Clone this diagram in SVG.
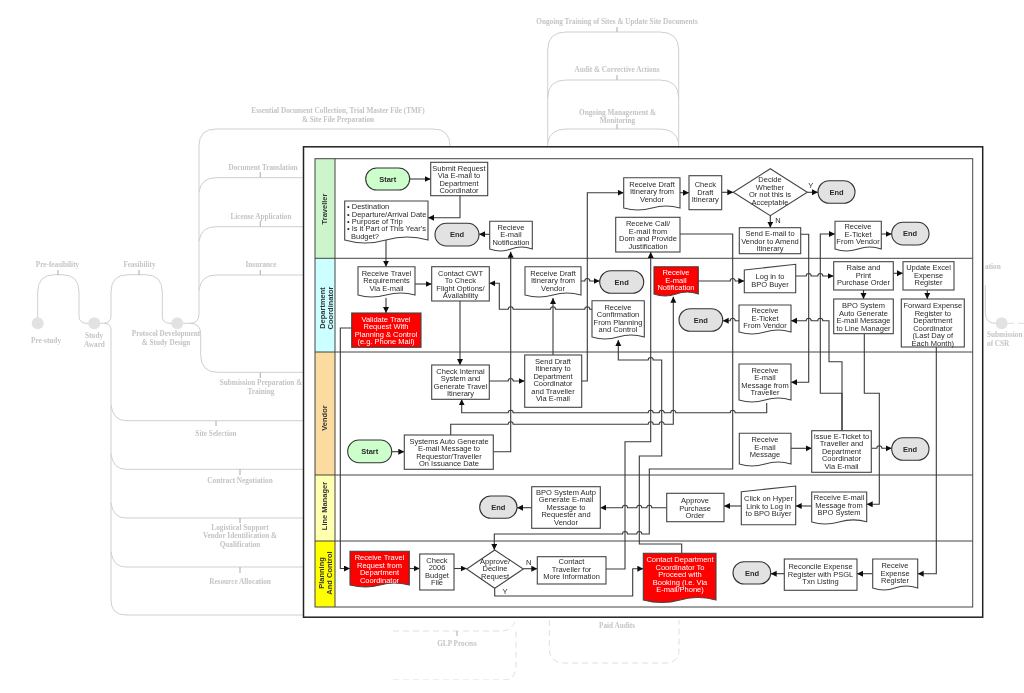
<svg xmlns="http://www.w3.org/2000/svg" width="1024" height="693" viewBox="0 0 1024 693">
<style>
text{font-family:"Liberation Sans",Arial,sans-serif;font-size:7.5px;fill:#2a2a2a;text-anchor:middle}
.bg text{font-family:"Liberation Serif","Times New Roman",serif;font-size:7.25px;font-weight:bold;fill:#c4c4c4}
.bgl{fill:none;stroke:#cfcfcf;stroke-width:1}
.dash{fill:none;stroke:#dedede;stroke-width:1;stroke-dasharray:6 4}
.tick{stroke:#b8b8b8;stroke-width:1.2}
.dot{fill:#e2e2e2}
.n{fill:#fff;stroke:#444;stroke-width:1.1}
.red{fill:#f00;stroke:#444;stroke-width:1.1}
.s{fill:#ccffcc;stroke:#333;stroke-width:1.1}
.e{fill:#e2e2e2;stroke:#333;stroke-width:1.1}
.w{fill:#fff}
.b{font-weight:bold}
.lane{stroke:#444;stroke-width:1}
.lt{font-weight:bold;fill:#333}
.c{fill:none;stroke:#3a3a3a;stroke-width:1.1}
.a{marker-end:url(#ah)}
</style>
<defs>
<marker id="ah" markerUnits="userSpaceOnUse" markerWidth="7" markerHeight="7" refX="6" refY="3" orient="auto"><path d="M0 0L6 3L0 6Z" fill="#111"/></marker>
<filter id="soft" x="0" y="0" width="100%" height="100%" filterUnits="objectBoundingBox"><feGaussianBlur stdDeviation="0.3"/></filter>
</defs>
<rect width="1024" height="693" fill="#fff"/>
<g filter="url(#soft)">
<g id="background" class="bg">
<path class="bgl" d="M37.7 323V292Q37.7 274.7 55 274.7H62Q79 274.7 79 292V316Q79 323.3 87 323.3H94"/>
<path class="bgl" d="M94 323.3H103Q111 323.3 111 316V292Q111 274.7 128 274.7H145Q162.3 274.7 162.3 292V316Q162.3 323.3 170 323.3H177"/>
<path class="bgl" d="M104 323.3Q111 323.3 111 330V600Q111 615 126 615H305"/>
<path class="bgl" d="M111 405Q113 420.7 126 420.7H305M111 454Q113 469.3 126 469.3H305M111 503Q113 518 126 518H305M111 552Q113 567 126 567H305"/>
<path class="bgl" d="M177 323.3H190Q199 323.3 199 314V146Q199 129 216 129H433Q450 129 450 146V150"/>
<path class="bgl" d="M199 192Q201 177.7 216 177.7H305M199 241Q201 226.7 216 226.7H305M199 290Q201 275 216 275H305"/>
<path class="bgl" d="M190 323.3Q200.7 323.3 200.7 334V355Q200.7 372.3 218 372.3H305"/>
<path class="bgl" d="M547.7 150V50Q547.7 32 566 32H660Q678.7 32 678.7 50V150M547.7 98Q547.7 80 566 80H660Q678.7 80 678.7 98M547.7 143Q550 129 566 129H660Q676 129 678.7 143"/>
<path class="bgl" d="M985.3 285V312Q985.3 323.3 995 323.3H1002"/>
<path class="dash" d="M393 631H503Q512 630 516 620M393 680H503Q516 680 516 665V630"/>
<path class="dash" d="M549.3 620V648Q549.3 663 565 663H665Q679 663 679 650V620"/>
<path class="dash" d="M1008 323.3H1024"/>
<path class="tick" d="M58 270V275M139 270V275M260.3 172V177.7M260.3 221V226.7M260.3 270V275M260.3 372.3V378M216 420.7V426M240 469.3V475M240 518V523M240 567V573M617 27V32M617 75V80M617 124V129M457 631V636"/>
<circle class="dot" cx="37.7" cy="323.3" r="6"/>
<circle class="dot" cx="94.3" cy="323.3" r="6"/>
<circle class="dot" cx="177.3" cy="323.3" r="6"/>
<circle class="dot" cx="1001.7" cy="323.3" r="6"/>
<text x="57.5" y="266.5">Pre-feasibility</text>
<text x="139.5" y="266.5">Feasibility</text>
<text x="46" y="342.5">Pre-study</text>
<text x="94" y="337.5">Study</text>
<text x="94.5" y="346.5">Award</text>
<text x="166" y="335.5">Protocol Development</text>
<text x="166" y="344.5">&amp; Study Design</text>
<text x="338" y="113">Essential Document Collection, Trial Master File (TMF)</text>
<text x="338" y="122">&amp; Site File Preparation</text>
<text x="263" y="169.5">Document Translation</text>
<text x="261" y="218.5">License Application</text>
<text x="261" y="266.5">Insurance</text>
<text x="261" y="384.5">Submission Preparation &amp;</text>
<text x="261" y="393.5">Training</text>
<text x="216" y="435.5">Site Selection</text>
<text x="240" y="483">Contract Negotiation</text>
<text x="240" y="529.5">Logistical Support</text>
<text x="240" y="538">Vendor Identification &amp;</text>
<text x="240" y="547">Qualification</text>
<text x="240" y="583.5">Resource Allocation</text>
<text x="617" y="24">Ongoing Training of Sites &amp; Update Site Documents</text>
<text x="617" y="72">Audit &amp; Corrective Actions</text>
<text x="617.5" y="114.5">Ongoing Management &amp;</text>
<text x="617.5" y="123">Monitoring</text>
<text x="457" y="645.5">GLP Process</text>
<text x="617" y="628">Paid Audits</text>
<text x="985" y="268.5" style="text-anchor:start">ation</text>
<text x="987" y="336.5" style="text-anchor:start">Submission</text>
<text x="987" y="345.5" style="text-anchor:start">of CSR</text>
</g>
<rect id="frame" x="303.5" y="146.8" width="679.2" height="470.4" fill="#fff" stroke="#222" stroke-width="1.5"/>
<g id="lanes">
<rect x="315" y="158.7" width="20" height="99.6" fill="#ccf5cc"/>
<rect x="315" y="258.3" width="20" height="93.7" fill="#ccffff"/>
<rect x="315" y="352" width="20" height="123" fill="#fbdb9f"/>
<rect x="315" y="475" width="20" height="66" fill="#ffffb0"/>
<rect x="315" y="541" width="20" height="66" fill="#ffff00"/>
<rect class="lane" x="315" y="158.7" width="657.7" height="448.3" fill="none"/>
<path class="lane" d="M335 158.7V607M315 258.3H972.7M315 352H972.7M315 475H972.7M315 541H972.7"/>
<text class="lt" transform="translate(327 209) rotate(-90)">Traveller</text>
<text class="lt" transform="translate(325 308) rotate(-90)">Department</text>
<text class="lt" transform="translate(333 308) rotate(-90)">Coordinator</text>
<text class="lt" transform="translate(327 418) rotate(-90)">Vendor</text>
<text class="lt" transform="translate(327 506) rotate(-90)">Line Manager</text>
<text class="lt" transform="translate(324 573) rotate(-90)">Planning</text>
<text class="lt" transform="translate(332 573) rotate(-90)">And Control</text>
</g>
<g id="connectors">
<path class="c a" d="M409.7 179H430.7"/>
<path class="c a" d="M460 195.7V217.7H428"/>
<path class="c a" d="M386 240V266.7"/>
<path class="c a" d="M415 284H431.7"/>
<path class="c a" d="M386 298V313"/>
<path class="c a" d="M351.7 328H340.3V568.5H350"/>
<path class="c a" d="M460 301V365"/>
<path class="c a" d="M489.7 234.3H479"/>
<path class="c a" d="M493.3 451.7H510.7V251.7"/>
<path class="c a" d="M489.3 381H508.2a2.5 2.5 0 0 1 5 0H524.7"/>
<path class="c a" d="M553 355V298"/>
<path class="c a" d="M581.7 381H587.3V192.7H623.7"/>
<path class="c a" d="M581 281H584.8a2.5 2.5 0 0 1 5 0H599.7"/>
<path class="c a" d="M592 309.3H589.8a2.5 2.5 0 0 0 -5 0H555.5a2.5 2.5 0 0 0 -5 0H513.2a2.5 2.5 0 0 0 -5 0H499.3V283.3H489.3"/>
<path class="c a" d="M681.7 553.3V544H639.3V456H661.7V360H653.2a2.5 2.5 0 0 0 -5 0H618.3V340"/>
<path class="c a" d="M680 234H732.7V469H649.3V534H641.8a2.5 2.5 0 0 0 -5 0H627.5a2.5 2.5 0 0 0 -5 0H494.3V550"/>
<path class="c a" d="M766.7 403V412.7H735.2a2.5 2.5 0 0 0 -5 0H675.8a2.5 2.5 0 0 0 -5 0H664.2a2.5 2.5 0 0 0 -5 0H653.2a2.5 2.5 0 0 0 -5 0H513.2a2.5 2.5 0 0 0 -5 0H461.7V399.3"/>
<path class="c a" d="M450.7 435V424.3H508.2a2.5 2.5 0 0 1 5 0H648.2a2.5 2.5 0 0 1 5 0H659.2a2.5 2.5 0 0 1 5 0H673.3V296.7"/>
<path class="c a" d="M606 569H625V441.7H650.7V252"/>
<path class="c a" d="M666.7 507.7H651.8a2.5 2.5 0 0 0 -5 0H641.8a2.5 2.5 0 0 0 -5 0H627.5a2.5 2.5 0 0 0 -5 0H600.3"/>
<path class="c a" d="M494.7 588.3V596H632.7V568.7H643.3"/>
<path class="c a" d="M523.3 568.7H537.3"/>
<path class="c a" d="M454 568.5H466.7"/>
<path class="c a" d="M409.3 568.5H419.7"/>
<path class="c a" d="M680 192.7H689"/>
<path class="c a" d="M721.7 192.3H733.3"/>
<path class="c a" d="M807.3 192.3H818"/>
<path class="c a" d="M770.3 215.7V227.7"/>
<path class="c a" d="M800.7 234.3H808.7V382.3H791"/>
<path class="c a" d="M698.3 281H730.2a2.5 2.5 0 0 1 5 0H744.3"/>
<path class="c a" d="M795.7 276H806.2a2.5 2.5 0 0 1 5 0H817.8a2.5 2.5 0 0 1 5 0H833.7"/>
<path class="c a" d="M842 430.7V393.3H820.3V234H835"/>
<path class="c a" d="M842 430.7V361.7H829V320.7H822.8a2.5 2.5 0 0 0 -5 0H811.2a2.5 2.5 0 0 0 -5 0H791"/>
<path class="c a" d="M739 320.7H735.2a2.5 2.5 0 0 0 -5 0H722.7"/>
<path class="c a" d="M881 234H891.7"/>
<path class="c a" d="M893.3 273.3H903"/>
<path class="c a" d="M863.5 290V299"/>
<path class="c a" d="M927.3 290V299"/>
<path class="c a" d="M864.3 333.7V393.3H879.3V504.3H866.7"/>
<path class="c a" d="M936.3 347V573.7H917.7"/>
<path class="c a" d="M872.7 573.7H857"/>
<path class="c a" d="M784.3 573.7H770.7"/>
<path class="c a" d="M791 448.3H811.7"/>
<path class="c a" d="M871.3 448.3H876.8a2.5 2.5 0 0 1 5 0H891.7"/>
<path class="c a" d="M811.7 506H795.7"/>
<path class="c a" d="M741.3 506H724"/>
<path class="c a" d="M391.7 451.7H404.3"/>
<path class="c a" d="M531.7 507.7H517"/>
</g>
<g id="labels">
<text x="505" y="593.5">Y</text>
<text x="528.7" y="564.5">N</text>
<text x="810.7" y="187.5">Y</text>
<text x="778" y="222.5">N</text>
</g>
<g id="n-start1"><rect class="s" x="365.7" y="168" width="44" height="22" rx="11"/><text class="b" x="387.7" y="181.7">Start</text></g>
<g id="n-submit"><rect class="n" x="430.7" y="162.3" width="57" height="33.4"/><text x="459" y="170.5"><tspan x="459">Submit Request</tspan><tspan x="459" dy="7.5">Via E-mail to</tspan><tspan x="459" dy="7.5">Department</tspan><tspan x="459" dy="7.5">Coordinator</tspan></text></g>
<g id="n-list"><path class="n" d="M344.7 201H428V240Q407 234 386 240T344.7 240Z"/><text style="text-anchor:start" x="347"><tspan x="347" y="209.4">• Destination</tspan><tspan x="347" y="216.7">• Departure/Arrival Date</tspan><tspan x="347" y="224">• Purpose of Trip</tspan><tspan x="347" y="231.4">• Is it Part of This Year's</tspan><tspan x="351" y="238.7">Budget?</tspan></text></g>
<g id="n-end1"><rect class="e" x="435" y="223.3" width="44" height="22.7" rx="11.3"/><text class="b" x="457" y="237.4">End</text></g>
<g id="n-notif"><path class="n" d="M489.7 221.3H532.3V249Q521 245 511 249T489.7 249Z"/><text x="511" y="229.5"><tspan x="511">Recieve</tspan><tspan x="511" dy="7.5">E-mail</tspan><tspan x="511" dy="7.5">Notification</tspan></text></g>
<g id="n-rtr"><path class="n" d="M358 266.7H415V295Q401 291 386 295T358 295Z"/><text x="386.5" y="275.5"><tspan x="386.5">Receive Travel</tspan><tspan x="386.5" dy="7.5">Requirements</tspan><tspan x="386.5" dy="7.5">Via E-mail</tspan></text></g>
<g id="n-cwt"><rect class="n" x="431.7" y="266.7" width="57.6" height="34.3"/><text x="460.5" y="275.5"><tspan x="460.5">Contact CWT</tspan><tspan x="460.5" dy="7.5">To Check</tspan><tspan x="460.5" dy="7.5">Flight Options/</tspan><tspan x="460.5" dy="7.5">Availability</tspan></text></g>
<g id="n-rdi"><path class="n" d="M525 266.7H581V295Q567 291 553 295T525 295Z"/><text x="553" y="275.5"><tspan x="553">Receive Draft</tspan><tspan x="553" dy="7.5">Itinerary from</tspan><tspan x="553" dy="7.5">Vendor</tspan></text></g>
<g id="n-end2"><rect class="e" x="599.7" y="270.7" width="44" height="22.6" rx="11.3"/><text class="b" x="621.7" y="284.7">End</text></g>
<g id="n-confirm"><path class="n" d="M592 300.7H644.3V337Q631 333 618 337T592 337Z"/><text x="618" y="309.8"><tspan x="618">Receive</tspan><tspan x="618" dy="7.5">Confirmation</tspan><tspan x="618" dy="7.5">From Planning</tspan><tspan x="618" dy="7.5">and Control</tspan></text></g>
<g id="n-validate"><rect class="red" x="351.7" y="313" width="69.3" height="34.3"/><text class="w" x="386" y="321.5"><tspan x="386">Validate Travel</tspan><tspan x="386" dy="7.5">Request With</tspan><tspan x="386" dy="7.5">Planning &amp; Control</tspan><tspan x="386" dy="7.5">(e.g. Phone Mail)</tspan></text></g>
<g id="n-check"><rect class="n" x="431.7" y="365" width="57.6" height="34.3"/><text x="460.5" y="373.7"><tspan x="460.5">Check Internal</tspan><tspan x="460.5" dy="7.5">System and</tspan><tspan x="460.5" dy="7.5">Generate Travel</tspan><tspan x="460.5" dy="7.5">Itinerary</tspan></text></g>
<g id="n-send"><rect class="n" x="524.7" y="355" width="57" height="52.3"/><text x="553" y="363.7"><tspan x="553">Send Draft</tspan><tspan x="553" dy="7.5">Itinerary to</tspan><tspan x="553" dy="7.5">Department</tspan><tspan x="553" dy="7.5">Coordinator</tspan><tspan x="553" dy="7.5">and Traveller</tspan><tspan x="553" dy="7.5">Via E-mail</tspan></text></g>
<g id="n-rdv"><path class="n" d="M623.7 177.7H680V208Q666 204 652 208T623.7 208Z"/><text x="652" y="186.7"><tspan x="652">Receive Draft</tspan><tspan x="652" dy="7.5">Itinerary from</tspan><tspan x="652" dy="7.5">Vendor</tspan></text></g>
<g id="n-call"><rect class="n" x="615.7" y="217.3" width="64.3" height="34.7"/><text x="648" y="226"><tspan x="648">Receive Call/</tspan><tspan x="648" dy="7.5">E-mail from</tspan><tspan x="648" dy="7.5">Dom and Provide</tspan><tspan x="648" dy="7.5">Justification</tspan></text></g>
<g id="n-cdi"><rect class="n" x="689" y="175.7" width="32.7" height="34"/><text x="705.3" y="187"><tspan x="705.3">Check</tspan><tspan x="705.3" dy="7.5">Draft</tspan><tspan x="705.3" dy="7.5">Itinerary</tspan></text></g>
<g id="n-decide"><path class="n" d="M770.3 168.7L807.3 192.2L770.3 215.7L733.3 192.2Z"/><text x="770" y="182"><tspan x="770">Decide</tspan><tspan x="770" dy="7.5">Whether</tspan><tspan x="770" dy="7.5">Or not this is</tspan><tspan x="770" dy="7.5">Acceptable</tspan></text></g>
<g id="n-end3"><rect class="e" x="818" y="180.7" width="37" height="22.6" rx="11.3"/><text class="b" x="836.5" y="194.7">End</text></g>
<g id="n-amend"><rect class="n" x="739.3" y="227.7" width="61.4" height="26"/><text x="770" y="236"><tspan x="770">Send E-mail to</tspan><tspan x="770" dy="7.5">Vendor to Amend</tspan><tspan x="770" dy="7.5">Itinerary</tspan></text></g>
<g id="n-ret"><path class="n" d="M835 221.3H881.3V249Q870 245 858 249T835 249Z"/><text x="858" y="229.4"><tspan x="858">Receive</tspan><tspan x="858" dy="7.5">E-Ticket</tspan><tspan x="858" dy="7.5">From Vendor</tspan></text></g>
<g id="n-end4"><rect class="e" x="891.7" y="222.3" width="37.3" height="22.7" rx="11.3"/><text class="b" x="910" y="236.4">End</text></g>
<g id="n-rnotif"><path class="red" d="M654 266.7H698.3V294Q687 290 676 294T654 294Z"/><text class="w" x="676" y="275.4"><tspan x="676">Receive</tspan><tspan x="676" dy="7.5">E-mail</tspan><tspan x="676" dy="7.5">Notification</tspan></text></g>
<g id="n-login"><path class="n" d="M744.3 270L795.7 264.3V292.7H744.3Z"/><text x="770" y="279"><tspan x="770">Log in to</tspan><tspan x="770" dy="7.5">BPO Buyer</tspan></text></g>
<g id="n-raise"><rect class="n" x="833.7" y="261.7" width="59.6" height="28.3"/><text x="863.5" y="270.4"><tspan x="863.5">Raise and</tspan><tspan x="863.5" dy="7.5">Print</tspan><tspan x="863.5" dy="7.5">Purchase Order</tspan></text></g>
<g id="n-update"><rect class="n" x="903" y="261.7" width="51" height="28.3"/><text x="928.5" y="270.4"><tspan x="928.5">Update Excel</tspan><tspan x="928.5" dy="7.5">Expense</tspan><tspan x="928.5" dy="7.5">Register</tspan></text></g>
<g id="n-bpoa"><rect class="n" x="833.7" y="299" width="59.6" height="34.7"/><text x="863.5" y="308"><tspan x="863.5">BPO System</tspan><tspan x="863.5" dy="7.5">Auto Generate</tspan><tspan x="863.5" dy="7.5">E-mail Message</tspan><tspan x="863.5" dy="7.5">to Line Manager</tspan></text></g>
<g id="n-forward"><rect class="n" x="901.3" y="299" width="63" height="48"/><text x="932.8" y="308"><tspan x="932.8">Forward Expense</tspan><tspan x="932.8" dy="7.5">Register to</tspan><tspan x="932.8" dy="7.5">Department</tspan><tspan x="932.8" dy="7.5">Coordinator</tspan><tspan x="932.8" dy="7.5">(Last Day of</tspan><tspan x="932.8" dy="7.5">Each Month)</tspan></text></g>
<g id="n-retv"><path class="n" d="M739 305H791V332Q778 328 765 332T739 332Z"/><text x="765" y="313.4"><tspan x="765">Receive</tspan><tspan x="765" dy="7.5">E-Ticket</tspan><tspan x="765" dy="7.5">From Vendor</tspan></text></g>
<g id="n-end5"><rect class="e" x="679" y="308.7" width="43.7" height="22.6" rx="11.3"/><text class="b" x="700.8" y="322.7">End</text></g>
<g id="n-remt"><path class="n" d="M739 364H791V400Q778 396 765 400T739 400Z"/><text x="765" y="372.7"><tspan x="765">Receive</tspan><tspan x="765" dy="7.5">E-mail</tspan><tspan x="765" dy="7.5">Message from</tspan><tspan x="765" dy="7.5">Traveller</tspan></text></g>
<g id="n-start2"><rect class="s" x="347.7" y="440" width="44" height="22.7" rx="11.3"/><text class="b" x="369.7" y="454.2">Start</text></g>
<g id="n-systems"><rect class="n" x="404.3" y="435" width="89" height="34.3"/><text x="449" y="443.7"><tspan x="449">Systems Auto Generate</tspan><tspan x="449" dy="7.5">E-mail Message to</tspan><tspan x="449" dy="7.5">Requestor/Traveller</tspan><tspan x="449" dy="7.5">On Issuance Date</tspan></text></g>
<g id="n-rem"><path class="n" d="M739.3 433.3H791V464Q778 460 765 464T739.3 464Z"/><text x="765" y="442"><tspan x="765">Receive</tspan><tspan x="765" dy="7.5">E-mail</tspan><tspan x="765" dy="7.5">Message</tspan></text></g>
<g id="n-issue"><rect class="n" x="811.7" y="430.7" width="59.6" height="41.6"/><text x="841.5" y="438.7"><tspan x="841.5">Issue E-Ticket to</tspan><tspan x="841.5" dy="7.5">Traveller and</tspan><tspan x="841.5" dy="7.5">Department</tspan><tspan x="841.5" dy="7.5">Coordinator</tspan><tspan x="841.5" dy="7.5">Via E-mail</tspan></text></g>
<g id="n-end6"><rect class="e" x="891.7" y="437.7" width="37.3" height="22.6" rx="11.3"/><text class="b" x="910" y="451.7">End</text></g>
<g id="n-autp"><rect class="n" x="531.7" y="486.7" width="68.6" height="41.6"/><text x="566" y="494.7"><tspan x="566">BPO System Autp</tspan><tspan x="566" dy="7.5">Generate E-mail</tspan><tspan x="566" dy="7.5">Message to</tspan><tspan x="566" dy="7.5">Requester and</tspan><tspan x="566" dy="7.5">Vendor</tspan></text></g>
<g id="n-end7"><rect class="e" x="479.7" y="496" width="37.3" height="22.3" rx="11.1"/><text class="b" x="498.3" y="509.8">End</text></g>
<g id="n-approve"><rect class="n" x="666.7" y="493.3" width="57.3" height="28.4"/><text x="695" y="503.4"><tspan x="695">Approve</tspan><tspan x="695" dy="7.5">Purchase</tspan><tspan x="695" dy="7.5">Order</tspan></text></g>
<g id="n-click"><path class="n" d="M741.3 491.7L795.7 486V524.7H741.3Z"/><text x="768.5" y="501"><tspan x="768.5">Click on Hyper</tspan><tspan x="768.5" dy="7.5">Link to Log in</tspan><tspan x="768.5" dy="7.5">to BPO Buyer</tspan></text></g>
<g id="n-rbpo"><path class="n" d="M811.7 492H866.7V521.7Q853 518 839 522T811.7 522Z"/><text x="839" y="500.4"><tspan x="839">Receive E-mail</tspan><tspan x="839" dy="7.5">Message from</tspan><tspan x="839" dy="7.5">BPO System</tspan></text></g>
<g id="n-rtrpc"><path class="red" d="M350 551.3H409.3V585Q394 581 380 585T350 585Z"/><text class="w" x="379.5" y="560"><tspan x="379.5">Receive Travel</tspan><tspan x="379.5" dy="7.5">Request from</tspan><tspan x="379.5" dy="7.5">Department</tspan><tspan x="379.5" dy="7.5">Coordinator</tspan></text></g>
<g id="n-budget"><rect class="n" x="419.7" y="554" width="34.3" height="36"/><text x="437" y="562.7"><tspan x="437">Check</tspan><tspan x="437" dy="7.5">2006</tspan><tspan x="437" dy="7.5">Budget</tspan><tspan x="437" dy="7.5">File</tspan></text></g>
<g id="n-appdec"><path class="n" d="M494.7 550L523.3 569L494.7 588.3L466.7 569Z"/><text x="495" y="563.7"><tspan x="495">Approve/</tspan><tspan x="495" dy="7.5">Decline</tspan><tspan x="495" dy="7.5">Request</tspan></text></g>
<g id="n-contact"><rect class="n" x="537.3" y="556.7" width="68.7" height="27.3"/><text x="571.5" y="564.4"><tspan x="571.5">Contact</tspan><tspan x="571.5" dy="7.5">Traveller for</tspan><tspan x="571.5" dy="7.5">More Information</tspan></text></g>
<g id="n-cdept"><path class="red" d="M643.3 553.3H716V600Q698 595 680 600T643.3 600Z"/><text class="w" x="680" y="562.4"><tspan x="680">Contact Department</tspan><tspan x="680" dy="7.5">Coordinator To</tspan><tspan x="680" dy="7.5">Proceed with</tspan><tspan x="680" dy="7.5">Booking (i.e. Via</tspan><tspan x="680" dy="7.5">E-mail/Phone)</tspan></text></g>
<g id="n-end8"><rect class="e" x="733" y="561.7" width="37.7" height="22.3" rx="11.1"/><text class="b" x="752" y="575.7">End</text></g>
<g id="n-recon"><rect class="n" x="784.3" y="559" width="72.7" height="31.3"/><text x="820.5" y="569"><tspan x="820.5">Reconcile Expense</tspan><tspan x="820.5" dy="7.5">Register with PSGL</tspan><tspan x="820.5" dy="7.5">Txn Listing</tspan></text></g>
<g id="n-rexp"><path class="n" d="M872.7 559H917.7V588Q906 584 895 588T872.7 588Z"/><text x="895" y="568"><tspan x="895">Receive</tspan><tspan x="895" dy="7.5">Expense</tspan><tspan x="895" dy="7.5">Register</tspan></text></g>
</g>
</svg>
